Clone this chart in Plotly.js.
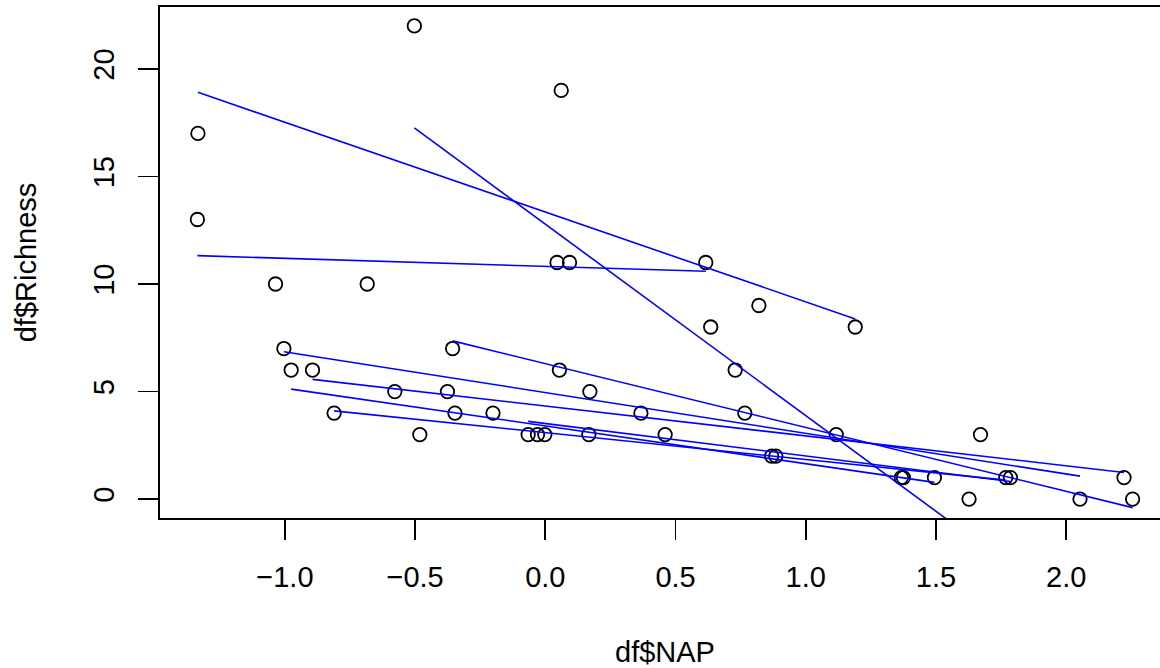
<!DOCTYPE html>
<html><head><meta charset="utf-8">
<script src="https://cdn.plot.ly/plotly-3.0.1.min.js"></script>
<style>html,body{margin:0;padding:0;overflow:hidden;background:#fff}#plot{width:1172px;height:668px}</style>
</head><body><div id="plot"></div>
<script>
// RIKZ-style data: NAP, Richness, Beach
const nap = [0.045,-1.036,-1.336,0.616,-0.684,
             1.190,0.820,0.635,0.061,-1.334,
             -0.976,1.494,-0.201,-0.482,0.167,
             1.768,-0.030,0.460,1.367,-0.811,
             1.117,-0.503,0.729,1.627,0.054,
             -0.578,-0.347,2.222,-0.894,0.766,
             -0.356,0.093,-0.002,0.869,2.255,
             -1.004,-0.376,0.171,1.671,2.053,
             -0.066,0.367,0.885,1.375,1.786];
const richness = [11,10,13,11,10,
                  8,9,8,19,17,
                  6,1,4,3,3,
                  1,3,3,1,4,
                  3,22,6,0,6,
                  5,4,1,6,4,
                  7,11,3,2,0,
                  7,5,5,3,0,
                  3,4,2,1,1];
const beach = [1,1,1,1,1, 2,2,2,2,2, 3,3,3,3,3, 4,4,4,4,4, 5,5,5,5,5,
               6,6,6,6,6, 7,7,7,7,7, 8,8,8,8,8, 9,9,9,9,9];
const beaches = [1,2,3,4,5,6,7,8,9];
const xTickVals = [-1,-0.5,0,0.5,1,1.5,2];
const xTickText = ["\u22121.0","\u22120.5","0.0","0.5","1.0","1.5","2.0"];
const yTickVals = [0,5,10,15,20];
const yTickText = ["0","5","10","15","20"];

const FONT = "Liberation Sans, Arial, Helvetica, sans-serif";
const traces = [{
  type: "scatter", mode: "markers", x: nap, y: richness,
  marker: {symbol: "circle-open", size: 13.5, color: "#000", line: {width: 1.8, color: "#000"}},
  hoverinfo: "x+y", showlegend: false
}];
beaches.forEach(b => {
  const xs = [], ys = [];
  nap.forEach((v, i) => { if (beach[i] === b) { xs.push(v); ys.push(richness[i]); } });
  const n = xs.length;
  const mx = xs.reduce((a, c) => a + c, 0) / n;
  const my = ys.reduce((a, c) => a + c, 0) / n;
  let sxy = 0, sxx = 0;
  for (let i = 0; i < n; i++) { sxy += (xs[i] - mx) * (ys[i] - my); sxx += (xs[i] - mx) ** 2; }
  const slope = sxy / sxx, icpt = my - slope * mx;
  const lo = Math.min(...xs), hi = Math.max(...xs);
  traces.push({
    type: "scatter", mode: "lines", x: [lo, hi], y: [icpt + slope * lo, icpt + slope * hi],
    line: {color: "#0000FF", width: 1.6}, showlegend: false, hoverinfo: "skip"
  });
});

const xmin = Math.min(...nap), xmax = Math.max(...nap);
const ymin = Math.min(...richness), ymax = Math.max(...richness);
const xpad = 0.04 * (xmax - xmin), ypad = 0.04 * (ymax - ymin);

const axisCommon = {
  showgrid: false, zeroline: false, showline: true, mirror: true,
  linecolor: "#000", linewidth: 1.8, ticks: "outside", ticklen: 20, tickwidth: 1.8,
  tickcolor: "#000", tickfont: {family: FONT, size: 29, color: "#000"}
};
const layout = {
  width: 1172, height: 668,
  margin: {l: 160, r: 2, t: 7, b: 150},
  paper_bgcolor: "#fff", plot_bgcolor: "#fff",
  showlegend: false,
  xaxis: Object.assign({}, axisCommon, {
    range: [xmin - xpad, xmax + xpad], tickmode: "array",
    tickvals: xTickVals, ticktext: xTickText, ticklabelstandoff: 12,
    title: {text: "df$NAP", font: {family: FONT, size: 29, color: "#000"}, standoff: 60}
  }),
  yaxis: Object.assign({}, axisCommon, {
    range: [ymin - ypad, ymax + ypad], tickmode: "array",
    tickvals: yTickVals, ticktext: yTickText, tickangle: -90, ticklabelstandoff: 13,
    title: {text: "df$Richness", font: {family: FONT, size: 29, color: "#000"}, standoff: 42}
  })
};
Plotly.newPlot("plot", traces, layout, {displayModeBar: false, staticPlot: true});
</script>
</body></html>
